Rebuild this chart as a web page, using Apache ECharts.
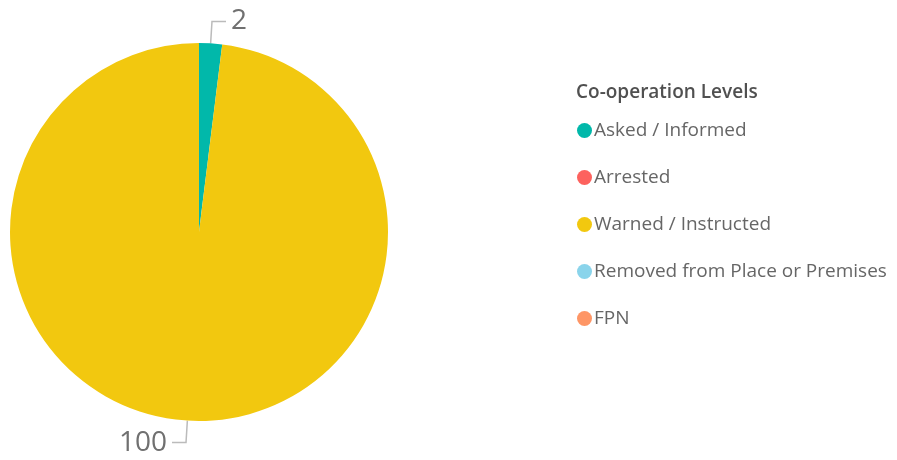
<!DOCTYPE html>
<html>
<head>
<meta charset="utf-8">
<script src="https://cdn.jsdelivr.net/npm/echarts@6/dist/echarts.min.js"></script>
<style>html,body{margin:0;padding:0;background:#fff}#c{width:897px;height:460px}</style>
</head>
<body>
<div id="c"></div>
<script>
const categories = ['Asked / Informed', 'Arrested', 'Warned / Instructed', 'Removed from Place or Premises', 'FPN'];
const values = [2, 0, 100, 0, 0];
const colors = ['#01B8AA', '#FD625E', '#F2C80F', '#8AD4EB', '#FE9666'];
const legendTitle = 'Co-operation Levels';

const chart = echarts.init(document.getElementById('c'));
const fontFam = '"Open Sans", "Noto Sans", sans-serif';
chart.setOption({
  animation: false,
  color: colors,
  title: {
    text: legendTitle,
    left: 571, top: 78,
    textStyle: { fontFamily: fontFam, fontSize: 19, fontWeight: 600, color: '#505050' }
  },
  legend: {
    orient: 'vertical',
    left: 572, top: 116,
    icon: 'circle',
    itemWidth: 15, itemHeight: 15, itemGap: 28,
    data: categories,
    textStyle: { fontFamily: fontFam, fontSize: 19, color: '#666666', padding: [0, 0, 0, -3] }
  },
  series: [{
    type: 'pie',
    center: [199, 232],
    radius: [0, 189],
    startAngle: 90,
    clockwise: true,
    avoidLabelOverlap: false,
    label: {
      show: true,
      position: 'outside',
      formatter: '{c}',
      fontFamily: fontFam,
      fontSize: 28,
      color: '#707070'
    },
    labelLine: { show: true, length: 22, length2: 14, lineStyle: { color: '#bbbbbb', width: 1.5 } },
    data: categories.map((n, i) => ({
      name: n,
      value: values[i],
      label: { show: values[i] > 0 },
      labelLine: { show: values[i] > 0 }
    }))
  }]
});
</script>
</body>
</html>
